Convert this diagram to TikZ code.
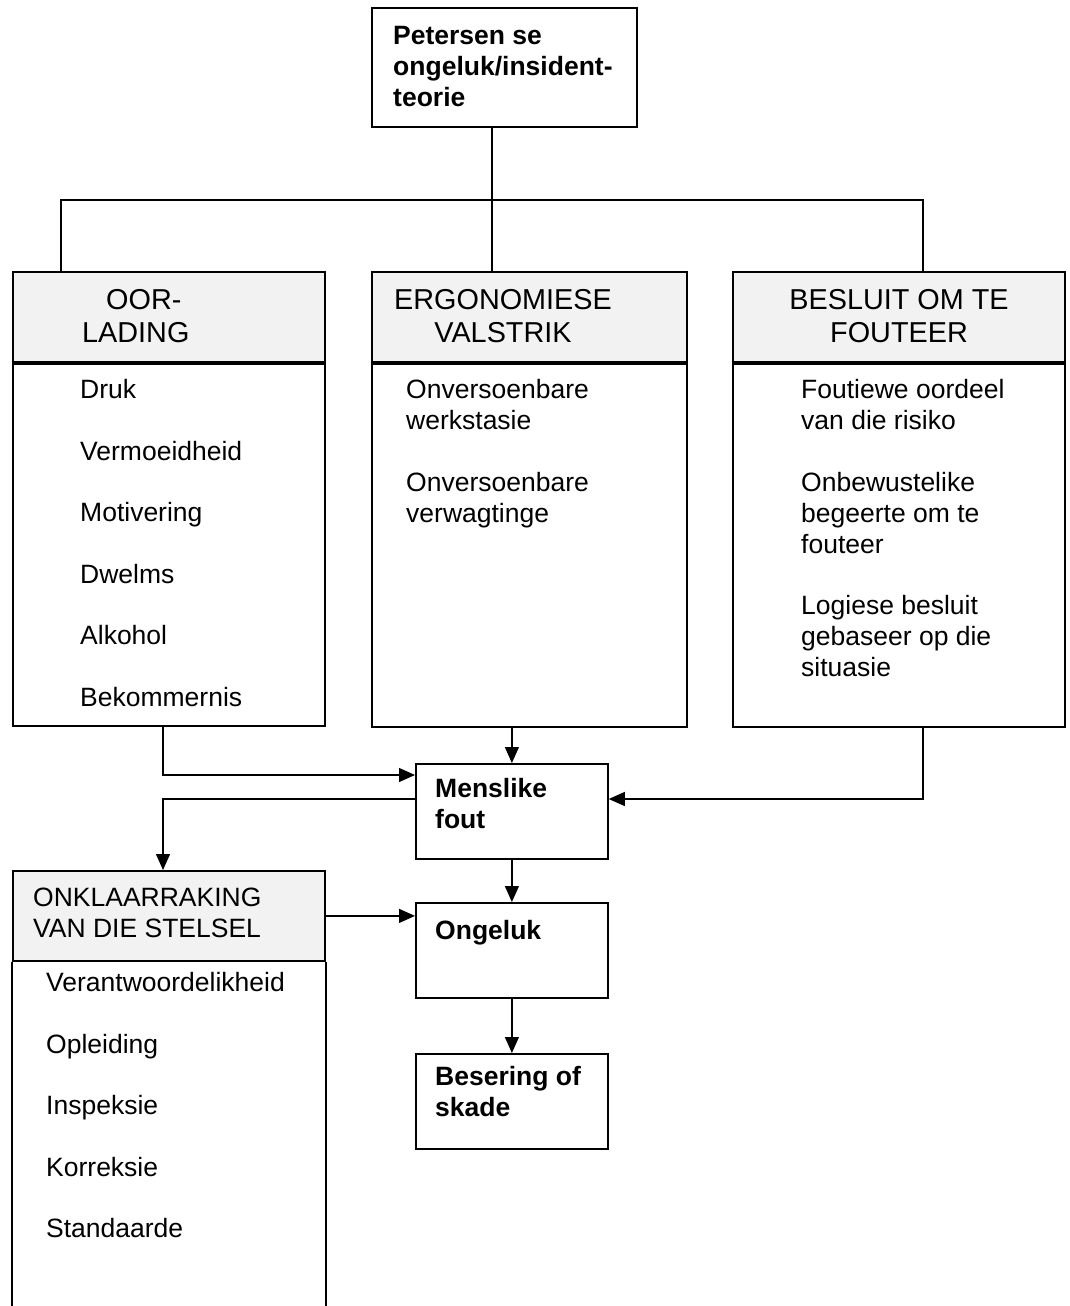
\documentclass[tikz,border=0pt]{standalone}
\usepackage{fontspec}
\setmainfont{Liberation Sans}
\usetikzlibrary{arrows.meta}
\definecolor{headgray}{HTML}{F2F2F2}
\tikzset{
  txt/.style={font=\fontsize{26.5}{31}\selectfont, inner sep=0pt, align=left, anchor=base west},
  btxt/.style={txt, font=\fontsize{26.5}{31}\selectfont\bfseries},
  htxt/.style={txt, font=\fontsize{28.8}{33}\selectfont},
  frame/.style={draw, line width=1.8pt, anchor=north west, inner sep=0pt},
  head/.style={frame, fill=headgray, minimum height=90pt},
  link/.style={line width=1.3pt},
  arr/.style={link, -{Triangle[length=16pt,width=14pt]}},
}
\begin{document}
\begin{tikzpicture}[x=1pt,y=-1pt]
    \useasboundingbox (0,0) rectangle (1070,1306);
    % theory box (text nodes are placed by their last baseline)
    \node[frame, minimum width=265pt, minimum height=119pt] (theory) at (371,7) {};
    \node[btxt] (theorytxt) at (393,106.5) {Petersen se\\ongeluk/insident-\\teorie};
    % three columns
    \node[head, minimum width=312pt] (ovhead) at (12,271) {};
    \node[frame, minimum width=312pt, minimum height=362pt] (ovbody) at (ovhead.south west) {};
    \node[htxt] (ovtitle) at (82,342.5) {\hspace*{24pt}OOR-\\LADING};
    \node[txt] (ovlist) at (80,706) {Druk\\[30.5pt]Vermoeidheid\\[30.5pt]Motivering\\[30.5pt]Dwelms\\[30.5pt]Alkohol\\[30.5pt]Bekommernis};
    \node[head, minimum width=315pt] (erghead) at (371,271) {};
    \node[frame, minimum width=315pt, minimum height=363pt] (ergbody) at (erghead.south west) {};
    \node[htxt, align=center, anchor=base] (ergtitle) at (503,342.5) {ERGONOMIESE\\VALSTRIK};
    \node[txt] (erglist) at (406,522) {Onversoenbare\\werkstasie\\[30.5pt]Onversoenbare\\verwagtinge};
    \node[head, minimum width=332pt] (dechead) at (732,271) {};
    \node[frame, minimum width=332pt, minimum height=363pt] (decbody) at (dechead.south west) {};
    \node[htxt, align=center, anchor=base] (dectitle) at (899,342.5) {BESLUIT OM TE\\FOUTEER};
    \node[txt] (declist) at (801,676.5) {Foutiewe oordeel\\van die risiko\\[30.5pt]Onbewustelike\\begeerte om te\\fouteer\\[30.5pt]Logiese besluit\\gebaseer op die\\situasie};
    % chain of outcomes
    \node[frame, minimum width=192pt, minimum height=95pt] (human) at (415,763) {};
    \node[btxt] (humantxt) at (435,828.5) {Menslike\\fout};
    \node[frame, minimum width=192pt, minimum height=95pt] (accident) at (415,902) {};
    \node[btxt] (accidenttxt) at (435,939) {Ongeluk};
    \node[frame, minimum width=192pt, minimum height=95pt] (injury) at (415,1053) {};
    \node[btxt] (injurytxt) at (435,1116) {Besering of\\skade};
    % system breakdown, open at the bottom
    \node[head, minimum width=312pt] (brkhead) at (12,870) {};
    \draw[line width=1.8pt] (brkhead.south west) -- (brkhead.south west |- 0,1306);
    \draw[line width=1.8pt] (brkhead.south east) -- (brkhead.south east |- 0,1306);
    \node[txt] (brktitle) at (33,937) {ONKLAARRAKING\\VAN DIE STELSEL};
    \node[txt] (brklist) at (46,1237.5) {Verantwoordelikheid\\[30.5pt]Opleiding\\[30.5pt]Inspeksie\\[30.5pt]Korreksie\\[30.5pt]Standaarde};
    % tree lines
    \coordinate (split) at (492,200);
    \draw[link] (split |- theory.south) -- (split |- erghead.north);
    \draw[link] ([xshift=49pt]ovhead.north west) |- (split) -| ([xshift=191pt]dechead.north west);
    % arrows
    \draw[arr] (human.north |- ergbody.south) -- (human.north);
    \draw[arr] ([xshift=151pt]ovbody.south west) |- ([yshift=-12pt]human.north west);
    \draw[arr] ([yshift=-36pt]human.north west) -| ([xshift=151pt]brkhead.north west);
    \draw[arr] ([xshift=191pt]decbody.south west) |- ([yshift=-36pt]human.north east);
    \draw[arr] (human.south) -- (accident.north);
    \draw[arr] (accident.south) -- (injury.north);
    \draw[arr] (brkhead.east) -- (brkhead.east -| accident.west);
\end{tikzpicture}
\end{document}
